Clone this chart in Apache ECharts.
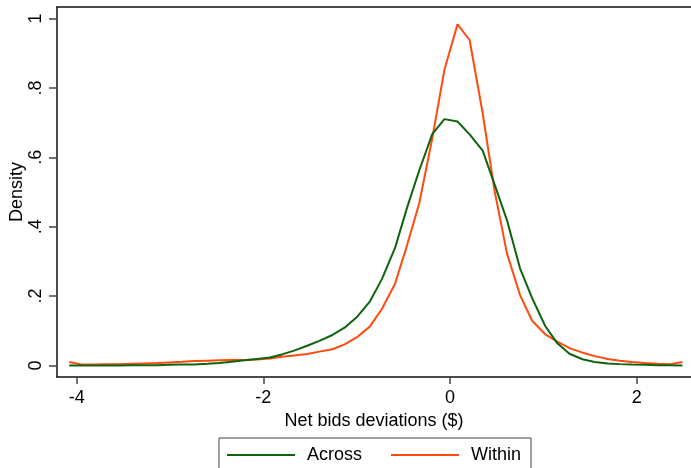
<!DOCTYPE html>
<html>
<head>
<meta charset="utf-8">
<title>Net bids deviations density</title>
<script src="https://cdn.jsdelivr.net/npm/echarts@6/dist/echarts.min.js"></script>
<style>
  html, body { margin: 0; padding: 0; background: #fff; }
  #chart { width: 691px; height: 468px; }
</style>
</head>
<body>
<div id="chart"></div>
<script>
// Kernel density evaluation points (net bid deviation, $)
const xPoints = [
  -4.08, -3.95, -3.81, -3.68, -3.54, -3.41, -3.28, -3.14, -3.01, -2.87,
  -2.74, -2.60, -2.47, -2.34, -2.20, -2.07, -1.93, -1.80, -1.67, -1.53,
  -1.40, -1.26, -1.13, -1.00, -0.86, -0.73, -0.59, -0.46, -0.33, -0.19,
  -0.06, 0.08, 0.21, 0.35, 0.48, 0.61, 0.75, 0.88, 1.02, 1.15,
  1.28, 1.42, 1.55, 1.69, 1.82, 1.95, 2.09, 2.22, 2.36, 2.49
];

// Density of deviations across groups
const acrossDensity = [
  0.000, 0.000, 0.000, 0.000, 0.000, 0.001, 0.001, 0.001, 0.002, 0.003,
  0.003, 0.005, 0.007, 0.011, 0.015, 0.019, 0.023, 0.032, 0.043, 0.057,
  0.071, 0.088, 0.109, 0.139, 0.184, 0.249, 0.338, 0.455, 0.562, 0.667,
  0.710, 0.703, 0.666, 0.619, 0.520, 0.419, 0.280, 0.194, 0.114, 0.064,
  0.034, 0.018, 0.010, 0.006, 0.004, 0.003, 0.002, 0.001, 0.001, 0.000
];

// Density of deviations within groups
const withinDensity = [
  0.010, 0.003, 0.003, 0.004, 0.004, 0.005, 0.006, 0.007, 0.009, 0.011,
  0.013, 0.014, 0.015, 0.016, 0.016, 0.017, 0.020, 0.025, 0.029, 0.033,
  0.040, 0.047, 0.061, 0.081, 0.112, 0.163, 0.235, 0.347, 0.467, 0.655,
  0.852, 0.983, 0.938, 0.727, 0.500, 0.323, 0.203, 0.129, 0.090, 0.069,
  0.050, 0.037, 0.027, 0.019, 0.014, 0.010, 0.007, 0.005, 0.004, 0.010
];

const xTicks = [-4, -2, 0, 2];
const yTicks = [0, 0.2, 0.4, 0.6, 0.8, 1];

const FONT = '"Liberation Sans", Arial, Helvetica, sans-serif';
const INK = '#111';

function pairs(xs, ys) {
  return xs.map((x, i) => [x, ys[i]]);
}

function yLabel(v) {
  if (v === 0) return '0';
  if (v === 1) return '1';
  return String(v).replace(/^0/, '');
}

const chart = echarts.init(document.getElementById('chart'), null, { renderer: 'canvas' });

const xMin = -4.211, xMax = 2.582;
const yMin = -0.0331, yMax = 1.0331;

chart.setOption({
  animation: false,
  backgroundColor: '#fff',
  textStyle: { fontFamily: FONT },
  grid: { left: 57, right: 0, top: 7, bottom: 91, containLabel: false, outerBoundsMode: 'none' },
  xAxis: [
    {
      type: 'value',
      min: xMin,
      max: xMax,
      position: 'bottom',
      name: 'Net bids deviations ($)',
      nameLocation: 'middle',
      nameGap: 35,
      nameMoveOverlap: false,
      nameTextStyle: { color: '#000', fontSize: 18, fontFamily: FONT },
      axisLine: { show: true, onZero: false, lineStyle: { color: INK, width: 1.5 } },
      axisTick: { show: true, customValues: xTicks, length: 7, lineStyle: { color: '#444', width: 1.5 } },
      axisLabel: { customValues: xTicks, margin: 12, color: '#000', fontSize: 18, fontFamily: FONT },
      splitLine: { show: false }
    },
    {
      type: 'value',
      min: xMin,
      max: xMax,
      position: 'top',
      axisLine: { show: true, onZero: false, lineStyle: { color: INK, width: 1.5 } },
      axisTick: { show: false },
      axisLabel: { show: false },
      splitLine: { show: false }
    }
  ],
  yAxis: {
    type: 'value',
    min: yMin,
    max: yMax,
    name: 'Density',
    nameLocation: 'middle',
    nameGap: 31,
    nameMoveOverlap: false,
    nameTextStyle: { color: '#000', fontSize: 18, fontFamily: FONT },
    axisLine: { show: true, onZero: false, lineStyle: { color: INK, width: 1.5 } },
    axisTick: { show: true, customValues: yTicks, length: 8, lineStyle: { color: '#444', width: 1.5 } },
    axisLabel: {
      customValues: yTicks,
      rotate: 90,
      margin: 12,
      color: '#000',
      fontSize: 18,
      fontFamily: FONT,
      formatter: yLabel
    },
    splitLine: { show: false }
  },
  legend: {
    left: 219,
    top: 438,
    orient: 'horizontal',
    padding: [8, 10, 9, 8],
    itemGap: 29,
    itemWidth: 68,
    itemHeight: 2,
    icon: 'rect',
    borderColor: '#444',
    borderWidth: 1,
    borderRadius: 0,
    textStyle: { color: '#000', fontSize: 18, fontFamily: FONT, padding: [0, 0, 0, 7] },
    data: ['Across', 'Within']
  },
  series: [
    {
      name: 'Across',
      type: 'line',
      data: pairs(xPoints, acrossDensity),
      showSymbol: false,
      symbol: 'none',
      smooth: false,
      color: '#0e640e',
      lineStyle: { color: '#0e640e', width: 2 },
      z: 3
    },
    {
      name: 'Within',
      type: 'line',
      data: pairs(xPoints, withinDensity),
      showSymbol: false,
      symbol: 'none',
      smooth: false,
      color: '#ff4a10',
      lineStyle: { color: '#ff4a10', width: 2 },
      z: 2
    }
  ]
});
</script>
</body>
</html>
